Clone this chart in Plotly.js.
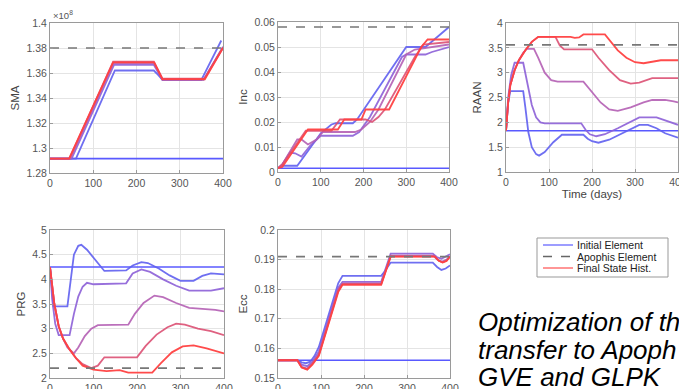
<!DOCTYPE html>
<html><head><meta charset="utf-8">
<script src="https://cdn.plot.ly/plotly-3.0.1.min.js"></script>
<style>html,body{margin:0;padding:0;background:#fff;overflow:hidden}#chart{width:679px;height:389px}</style>
</head><body><div id="chart"></div>
<script>
// ---- tick labels ----
const xTicks = [0, 100, 200, 300, 400];
const smaTicks = [1.28, 1.3, 1.32, 1.34, 1.36, 1.38, 1.4];
const incTicks = [0, 0.01, 0.02, 0.03, 0.04, 0.05, 0.06];
const raanTicks = [1, 1.5, 2, 2.5, 3, 3.5, 4];
const prgTicks = [2, 2.5, 3, 3.5, 4, 4.5, 5];
const eccTicks = [0.15, 0.16, 0.17, 0.18, 0.19, 0.2];
const panelNames = ["SMA", "Inc", "RAAN", "PRG", "Ecc"];
const legendNames = ["Initial Element", "Apophis Element", "Final State Hist."];
const noteLines = ["Optimization of th", "transfer to Apoph", "GVE and GLPK"];

// ---- initial element and Apophis element values ----
const initialValues = [1.2915, 0.0015, 1.83, 4.25, 0.156];
const apophisValues = [1.38, 0.058, 3.56, 2.2, 0.191];
const timeSpan = [0, 400];

// ---- iteration histories: [day, value] pairs, iteration 0 (blue) .. 4 (final, red) ----
const smaIter = [
  [[0,1.2915],[60,1.2915],[150,1.362],[240,1.362],[250,1.3585],[260,1.3545],[350,1.3545],[396,1.386]],
  [[0,1.2915],[50,1.2915],[148,1.3665],[240,1.3665],[260,1.3545],[355,1.3545],[400,1.381]],
  [[0,1.2915],[47,1.2915],[147,1.368],[240,1.368],[260,1.355],[356,1.355],[400,1.3803]],
  [[0,1.2915],[45,1.2915],[146,1.369],[240,1.369],[260,1.3555],[357,1.3555],[400,1.3805]],
  [[0,1.2915],[44,1.2915],[146,1.3685],[241,1.3685],[260,1.355],[358,1.355],[400,1.38]]
];
const incIter = [
  [[0,0.0015],[8,0.0025],[45,0.0025],[60,0.006],[100,0.0155],[125,0.019],[135,0.0195],[175,0.0195],[185,0.021],[300,0.05],[345,0.05],[400,0.058]],
  [[0,0.0015],[10,0.003],[28,0.0078],[40,0.0075],[55,0.0062],[75,0.0105],[100,0.0145],[175,0.0145],[190,0.016],[215,0.022],[290,0.046],[300,0.047],[345,0.047],[360,0.048],[400,0.05]],
  [[0,0.0015],[10,0.003],[45,0.013],[55,0.013],[70,0.011],[90,0.013],[105,0.016],[180,0.016],[195,0.017],[215,0.02],[235,0.025],[300,0.047],[320,0.049],[400,0.051]],
  [[0,0.0015],[10,0.003],[65,0.0165],[125,0.0165],[145,0.021],[205,0.021],[220,0.02],[235,0.022],[250,0.025],[320,0.046],[340,0.051],[400,0.052]],
  [[0,0.0015],[10,0.002],[70,0.017],[140,0.017],[155,0.021],[195,0.021],[205,0.025],[260,0.025],[275,0.03],[335,0.05],[350,0.053],[400,0.053]]
];
const raanIter = [
  [[0,1.83],[5,2.4],[10,2.63],[40,2.63],[45,2.3],[52,1.8],[60,1.5],[70,1.36],[77,1.33],[90,1.4],[110,1.6],[130,1.75],[180,1.75],[190,1.67],[200,1.62],[215,1.59],[240,1.65],[270,1.78],[300,1.92],[310,1.95],[330,1.95],[350,1.88],[370,1.78],[390,1.71],[400,1.69]],
  [[0,1.83],[5,2.5],[12,2.95],[20,3.2],[40,3.2],[50,2.8],[60,2.35],[70,2.1],[80,2.0],[90,1.98],[175,1.98],[185,1.85],[195,1.76],[210,1.72],[230,1.76],[260,1.88],[290,2.02],[310,2.1],[350,2.1],[375,2.03],[400,1.95]],
  [[0,1.83],[5,2.4],[10,2.75],[20,3.05],[30,3.25],[40,3.4],[48,3.48],[65,3.48],[75,3.3],[90,3.0],[105,2.85],[120,2.82],[180,2.82],[200,2.6],[220,2.4],[240,2.26],[260,2.23],[290,2.3],[320,2.4],[340,2.45],[370,2.45],[390,2.42],[400,2.4]],
  [[0,1.83],[5,2.4],[10,2.75],[20,3.05],[30,3.25],[45,3.45],[60,3.62],[75,3.72],[115,3.72],[125,3.55],[135,3.47],[200,3.47],[215,3.3],[240,3.05],[265,2.85],[290,2.78],[310,2.8],[340,2.89],[400,2.89]],
  [[0,1.83],[5,2.4],[10,2.75],[20,3.05],[30,3.25],[45,3.45],[60,3.62],[75,3.72],[150,3.72],[160,3.7],[170,3.71],[180,3.77],[230,3.77],[245,3.6],[260,3.45],[280,3.3],[300,3.21],[320,3.19],[340,3.22],[360,3.25],[400,3.25]]
];
const prgIter = [
  [[0,4.25],[4,3.8],[8,3.45],[40,3.45],[48,4.0],[55,4.5],[65,4.68],[72,4.7],[85,4.6],[105,4.38],[125,4.17],[175,4.18],[190,4.28],[210,4.35],[225,4.33],[250,4.22],[275,4.08],[300,3.97],[330,3.97],[350,4.07],[370,4.12],[400,4.1]],
  [[0,4.25],[5,3.6],[12,3.1],[20,2.87],[45,2.87],[55,3.3],[65,3.65],[75,3.85],[85,3.93],[100,3.9],[175,3.92],[190,4.12],[210,4.2],[230,4.15],[260,4.0],[290,3.87],[320,3.77],[370,3.77],[400,3.82]],
  [[0,4.25],[10,3.5],[20,3.05],[30,2.8],[40,2.62],[55,2.5],[65,2.62],[80,2.85],[95,3.0],[110,3.07],[180,3.08],[195,3.3],[215,3.52],[240,3.67],[260,3.64],[290,3.52],[320,3.42],[350,3.4],[380,3.38],[400,3.35]],
  [[0,4.25],[10,3.5],[20,3.05],[30,2.8],[45,2.58],[60,2.4],[75,2.28],[95,2.2],[110,2.25],[125,2.42],[200,2.42],[220,2.65],[245,2.88],[270,3.03],[290,3.1],[310,3.08],[340,3.0],[370,2.95],[400,2.87]],
  [[0,4.25],[10,3.5],[20,3.05],[30,2.8],[45,2.58],[60,2.4],[75,2.25],[100,2.17],[130,2.14],[160,2.16],[180,2.11],[235,2.11],[255,2.3],[280,2.52],[305,2.64],[330,2.66],[360,2.6],[400,2.5]]
];
const eccIter = [
  [[0,0.156],[45,0.156],[55,0.1553],[65,0.155],[75,0.1555],[85,0.1575],[95,0.1605],[140,0.182],[150,0.1845],[240,0.1845],[248,0.186],[262,0.189],[360,0.189],[370,0.1875],[380,0.1865],[390,0.187],[400,0.188]],
  [[0,0.156],[45,0.156],[55,0.1545],[68,0.154],[80,0.1555],[95,0.159],[140,0.1805],[150,0.1825],[240,0.1825],[250,0.1865],[262,0.192],[360,0.192],[370,0.1908],[380,0.1903],[390,0.191],[400,0.1918]],
  [[0,0.156],[45,0.156],[55,0.1538],[68,0.1532],[80,0.155],[95,0.158],[140,0.18],[150,0.182],[240,0.182],[250,0.186],[262,0.1913],[362,0.1913],[372,0.1898],[382,0.1893],[392,0.19],[400,0.1912]],
  [[0,0.156],[45,0.156],[55,0.1536],[68,0.153],[80,0.1548],[95,0.1578],[140,0.1795],[150,0.1817],[240,0.1817],[250,0.1857],[262,0.1911],[364,0.1911],[374,0.1896],[383,0.1891],[392,0.1897],[400,0.191]],
  [[0,0.156],[45,0.156],[55,0.1535],[68,0.1528],[80,0.1545],[95,0.1575],[140,0.179],[150,0.1815],[240,0.1815],[250,0.1855],[262,0.191],[365,0.191],[375,0.1895],[383,0.189],[392,0.1895],[400,0.191]]
];

// ---- styling ----
const iterColors = ["rgba(95,95,240,0.9)", "rgba(140,95,215,0.9)", "rgba(180,95,180,0.9)", "rgba(220,80,115,0.9)", "rgba(255,65,65,0.95)"];
const initialColor = "rgba(80,80,255,0.95)";
const apophisColor = "#777777";
const legendColors = ["rgba(110,110,255,0.85)", "#666666", "rgba(255,110,110,0.9)"];
const legendDash = ["solid", "dash", "solid"];
const histories = [smaIter, incIter, raanIter, prgIter, eccIter];
const tickSets = [smaTicks, incTicks, raanTicks, prgTicks, eccTicks];
const yRanges = [[1.28, 1.4], [0, 0.06], [1, 4], [2, 5], [0.15, 0.2]];

const W = 679, H = 389;
// panel pixel boxes [left, right, top, bottom]
const boxes = [[50, 223, 23, 173], [278, 449, 22, 172], [506, 678, 23, 172], [50, 224, 230, 378], [278, 450, 230, 378]];

const traces = [];
histories.forEach((hist, p) => {
  const xa = p === 0 ? "x" : "x" + (p + 1);
  const ya = p === 0 ? "y" : "y" + (p + 1);
  traces.push({
    x: timeSpan, y: [initialValues[p], initialValues[p]], xaxis: xa, yaxis: ya,
    mode: "lines", line: {color: initialColor, width: 1.6},
    name: legendNames[0], showlegend: false, hoverinfo: "skip"
  });
  hist.forEach((series, i) => {
    traces.push({
      x: series.map(d => d[0]), y: series.map(d => d[1]), xaxis: xa, yaxis: ya,
      mode: "lines", line: {color: iterColors[i], width: 1.8},
      name: i === hist.length - 1 ? legendNames[2] : "Iteration " + (i + 1),
      showlegend: false, hoverinfo: "skip"
    });
  });
  traces.push({
    x: timeSpan, y: [apophisValues[p], apophisValues[p]], xaxis: xa, yaxis: ya,
    mode: "lines", line: {color: apophisColor, width: 1.7, dash: "dash"},
    name: legendNames[1], showlegend: false, hoverinfo: "skip"
  });
});

const layout = {
  width: W, height: H,
  margin: {l: 0, r: 0, t: 0, b: 0},
  paper_bgcolor: "#ffffff", plot_bgcolor: "#ffffff",
  font: {family: "Liberation Sans, Arial, sans-serif", size: 10.5, color: "#444"},
  showlegend: false,
  annotations: [
    {xref: "paper", yref: "paper", x: 51 / W, y: 1 - 15 / H, xanchor: "left", yanchor: "middle",
     text: "×10<sup>8</sup>", showarrow: false, font: {size: 9.5, color: "#555"}}
  ],
  shapes: [
    {type: "rect", xref: "paper", yref: "paper", x0: 537 / W, x1: 668 / W, y0: 1 - 277 / H, y1: 1 - 238 / H,
     line: {color: "#999", width: 1}, fillcolor: "#ffffff", layer: "below"}
  ]
};
// manual compact legend (MATLAB style)
legendNames.forEach((name, i) => {
  const yy = 1 - (245 + 11.5 * i) / H;
  layout.shapes.push({type: "line", xref: "paper", yref: "paper", x0: 543 / W, x1: 573 / W, y0: yy, y1: yy,
    line: {color: legendColors[i], width: 1.6, dash: legendDash[i]}});
  layout.annotations.push({xref: "paper", yref: "paper", x: 575 / W, y: yy, xanchor: "left", yanchor: "middle",
    text: name, showarrow: false, font: {size: 10.5, color: "#222"}});
});
noteLines.forEach((t, i) => {
  layout.annotations.push({xref: "paper", yref: "paper", x: 476 / W, y: 1 - (322 + 27.5 * i) / H,
    xanchor: "left", yanchor: "middle", text: "<i>" + t + "</i>", showarrow: false,
    font: {size: 26, color: "#000"}});
});

boxes.forEach((b, p) => {
  const sfx = p === 0 ? "" : String(p + 1);
  const common = {
    showline: true, mirror: true, linecolor: "#9a9a9a", linewidth: 1,
    showgrid: true, gridcolor: "#e4e4e4", zeroline: false,
    ticks: "inside", ticklen: 3, tickcolor: "#9a9a9a",
    tickfont: {size: 10.5, color: "#555"}, ticklabeloverflow: "allow"
  };
  layout["xaxis" + sfx] = Object.assign({}, common, {
    domain: [b[0] / W, b[1] / W], anchor: "y" + sfx, range: [0, 400],
    tickvals: xTicks, ticktext: xTicks.map(String)
  });
  if (p === 2) layout["xaxis" + sfx].title = {text: "Time (days)", font: {size: 11.5, color: "#444"}, standoff: 1};
  const tk = tickSets[p];
  layout["yaxis" + sfx] = Object.assign({}, common, {
    domain: [1 - b[3] / H, 1 - b[2] / H], anchor: "x" + sfx, range: yRanges[p],
    tickvals: tk, ticktext: tk.map(String),
    title: {text: panelNames[p], font: {size: 11.5, color: "#444"}, standoff: 4}
  });
});

Plotly.newPlot("chart", traces, layout, {staticPlot: true, displayModeBar: false});
</script>
</body></html>
